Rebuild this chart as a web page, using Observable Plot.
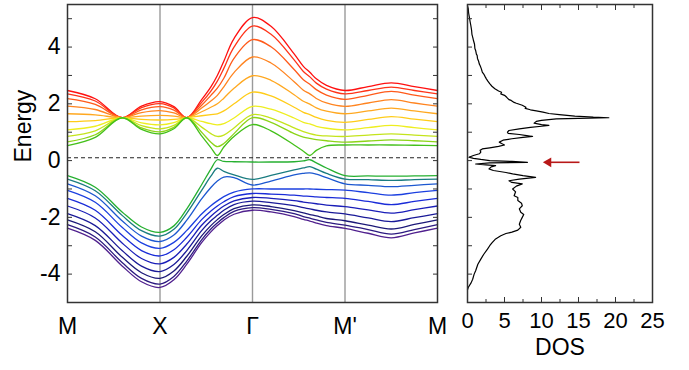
<!DOCTYPE html>
<html>
<head>
<meta charset="utf-8">
<script src="https://cdn.jsdelivr.net/npm/d3@7"></script>
<script src="https://cdn.jsdelivr.net/npm/@observablehq/plot@0.6"></script>
<style>
  html, body { margin: 0; padding: 0; background: #fff; }
  #wrap { position: relative; width: 689px; height: 370px; overflow: hidden; font-family: "Liberation Sans", Arial, sans-serif; }
  #bands, #dos { position: absolute; top: 0; }
  #bands { left: 0; }
  #dos { left: 455px; }
</style>
</head>
<body>
<div id="wrap"><div id="bands"></div><div id="dos"></div></div>
<script>
// ---- k-path ----
const kTicks = [0, 1, 2, 3, 4];
const kLabels = ["M", "X", "Γ", "M'", "M"];
const bandK = [0, 0.3, 0.59, 0.8, 1.0, 1.15, 1.29, 1.45, 1.55, 1.62, 1.69, 1.8, 2.0, 2.2, 2.45, 2.55, 2.62, 2.69, 2.8, 3.0, 3.25, 3.5, 3.75, 4.0];

// ---- conduction bands (top red -> bottom green) ----
const conductionBands = [
  [2.47, 2.18, 1.51, 1.92, 2.08, 1.90, 1.51, 2.15, 2.60, 3.00, 3.50, 4.30, 5.04, 4.73, 3.76, 3.32, 3.11, 2.88, 2.65, 2.47, 2.61, 2.74, 2.61, 2.47],
  [2.35, 2.10, 1.51, 1.87, 2.01, 1.86, 1.51, 2.05, 2.45, 2.80, 3.25, 4.00, 4.74, 4.45, 3.55, 3.14, 2.95, 2.73, 2.52, 2.35, 2.47, 2.59, 2.47, 2.35],
  [2.18, 1.98, 1.51, 1.79, 1.90, 1.78, 1.51, 1.95, 2.30, 2.55, 2.90, 3.60, 4.26, 4.01, 3.21, 2.85, 2.69, 2.50, 2.31, 2.16, 2.30, 2.44, 2.31, 2.18],
  [1.92, 1.80, 1.51, 1.69, 1.76, 1.68, 1.51, 1.85, 2.10, 2.30, 2.60, 3.10, 3.65, 3.44, 2.78, 2.48, 2.35, 2.19, 2.03, 1.91, 2.03, 2.15, 2.03, 1.92],
  [1.65, 1.61, 1.51, 1.57, 1.59, 1.57, 1.51, 1.72, 1.88, 2.00, 2.20, 2.55, 2.99, 2.83, 2.32, 2.09, 1.99, 1.86, 1.74, 1.65, 1.75, 1.85, 1.75, 1.65],
  [1.37, 1.41, 1.51, 1.45, 1.43, 1.45, 1.51, 1.58, 1.62, 1.65, 1.75, 2.00, 2.41, 2.28, 1.88, 1.70, 1.62, 1.52, 1.42, 1.35, 1.45, 1.55, 1.46, 1.37],
  [1.08, 1.21, 1.51, 1.33, 1.26, 1.34, 1.51, 1.38, 1.30, 1.26, 1.30, 1.50, 1.91, 1.81, 1.50, 1.35, 1.29, 1.21, 1.14, 1.08, 1.16, 1.24, 1.16, 1.08],
  [0.85, 1.05, 1.51, 1.23, 1.12, 1.24, 1.51, 1.18, 0.95, 0.85, 0.90, 1.15, 1.62, 1.50, 1.15, 1.02, 0.95, 0.90, 0.87, 0.85, 0.90, 0.94, 0.90, 0.85],
  [0.66, 0.91, 1.51, 1.15, 1.01, 1.17, 1.51, 1.00, 0.65, 0.49, 0.60, 0.95, 1.51, 1.35, 0.95, 0.83, 0.78, 0.74, 0.70, 0.65, 0.69, 0.73, 0.70, 0.66],
  [0.53, 0.82, 1.51, 1.10, 0.94, 1.12, 1.51, 0.87, 0.46, 0.18, 0.48, 0.85, 1.27, 1.05, 0.55, 0.33, 0.18, 0.36, 0.52, 0.55, 0.55, 0.55, 0.54, 0.53]
];
const conductionColors = ["#ff1010", "#ff3318", "#ff5a1a", "#ff8420", "#ffa820", "#ffcc18", "#eeee20", "#c4e41c", "#8cd418", "#44c01a"];

// ---- valence bands (top green -> bottom purple) ----
const valenceBands = [
  [-0.53, -0.94, -1.81, -2.34, -2.53, -2.30, -1.70, -0.85, -0.30, 0.03, -0.03, -0.04, -0.05, -0.05, -0.04, -0.01, 0.03, -0.08, -0.26, -0.53, -0.54, -0.55, -0.54, -0.53],
  [-0.65, -1.06, -1.93, -2.47, -2.66, -2.42, -1.85, -1.05, -0.55, -0.27, -0.38, -0.50, -0.66, -0.52, -0.33, -0.26, -0.21, -0.30, -0.45, -0.65, -0.67, -0.70, -0.67, -0.65],
  [-0.82, -1.24, -2.12, -2.66, -2.85, -2.62, -2.10, -1.35, -0.95, -0.72, -0.58, -0.60, -0.86, -0.72, -0.50, -0.45, -0.43, -0.48, -0.60, -0.82, -0.87, -0.92, -0.87, -0.82],
  [-1.05, -1.47, -2.35, -2.90, -3.09, -2.88, -2.46, -1.88, -1.59, -1.42, -1.27, -1.11, -1.00, -1.00, -1.00, -1.00, -1.00, -1.01, -1.02, -1.04, -1.13, -1.22, -1.13, -1.05],
  [-1.33, -1.75, -2.63, -3.17, -3.36, -3.14, -2.70, -2.08, -1.78, -1.60, -1.45, -1.27, -1.16, -1.18, -1.22, -1.25, -1.26, -1.28, -1.30, -1.33, -1.44, -1.55, -1.44, -1.33],
  [-1.60, -2.02, -2.90, -3.45, -3.64, -3.41, -2.94, -2.28, -1.96, -1.77, -1.60, -1.42, -1.30, -1.33, -1.41, -1.46, -1.49, -1.52, -1.57, -1.62, -1.74, -1.85, -1.73, -1.60],
  [-1.87, -2.29, -3.17, -3.72, -3.91, -3.66, -3.17, -2.47, -2.12, -1.93, -1.75, -1.55, -1.43, -1.48, -1.59, -1.66, -1.70, -1.75, -1.81, -1.88, -2.02, -2.15, -2.01, -1.87],
  [-2.09, -2.51, -3.40, -3.95, -4.15, -3.89, -3.37, -2.65, -2.29, -2.08, -1.90, -1.69, -1.56, -1.62, -1.76, -1.84, -1.90, -1.95, -2.04, -2.12, -2.27, -2.41, -2.25, -2.09],
  [-2.26, -2.69, -3.59, -4.15, -4.35, -4.08, -3.54, -2.79, -2.41, -2.20, -2.01, -1.79, -1.66, -1.72, -1.87, -1.97, -2.03, -2.09, -2.18, -2.27, -2.43, -2.59, -2.43, -2.26],
  [-2.38, -2.81, -3.71, -4.27, -4.47, -4.20, -3.65, -2.89, -2.51, -2.29, -2.10, -1.89, -1.75, -1.81, -1.97, -2.07, -2.13, -2.20, -2.29, -2.39, -2.56, -2.72, -2.55, -2.38]
];
const valenceColors = ["#26b030", "#1a7c80", "#1c58d0", "#1c40e0", "#1a2cd8", "#1a1eb8", "#1a1a98", "#1c1878", "#2c1a80", "#50208e"];

const fermiLevel = 0.1;
const energyTicks = [-5, -4, -3, -2, -1, 0, 1, 2, 3, 4, 5];
const energyLabels = [-4, -2, 0, 2, 4];

// ---- density of states (energy, DOS) ----
const dosEnergy = [5.45, 5.35, 5.2, 5.06, 4.9, 4.76, 4.6, 4.45, 4.3, 4.24, 4.1, 3.95, 3.88, 3.75, 3.71, 3.6, 3.5, 3.4, 3.35, 3.25, 3.12, 3.05, 2.95, 2.88, 2.8, 2.71, 2.62, 2.53, 2.45, 2.41, 2.35, 2.3, 2.23, 2.15, 2.12, 2.05, 2.02, 1.95, 1.88, 1.84, 1.79, 1.75, 1.71, 1.66, 1.62, 1.57, 1.53, 1.51, 1.49, 1.47, 1.42, 1.38, 1.32, 1.27, 1.24, 1.21, 1.17, 1.12, 1.06, 1.0, 0.96, 0.92, 0.88, 0.85, 0.82, 0.77, 0.72, 0.65, 0.6, 0.55, 0.5, 0.45, 0.41, 0.36, 0.3, 0.24, 0.18, 0.12, 0.08, 0.04, 0.0, -0.03, -0.06, -0.08, -0.12, -0.15, -0.18, -0.22, -0.29, -0.35, -0.42, -0.47, -0.53, -0.59, -0.65, -0.71, -0.77, -0.82, -0.9, -1.0, -1.1, -1.24, -1.3, -1.41, -1.5, -1.59, -1.7, -1.82, -1.9, -2.0, -2.1, -2.24, -2.35, -2.45, -2.52, -2.57, -2.65, -2.76, -2.9, -3.0, -3.12, -3.3, -3.47, -3.65, -3.88, -4.0, -4.18, -4.3, -4.47, -4.55];
const dosValue = [0, 0.1, 0.15, 0.25, 0.35, 0.45, 0.55, 0.6, 0.75, 0.8, 0.95, 1.0, 1.1, 1.2, 1.3, 1.35, 1.5, 1.6, 1.7, 1.85, 2.0, 2.2, 2.4, 2.55, 2.75, 3.0, 3.3, 3.7, 4.2, 4.6, 4.5, 5.0, 5.3, 5.6, 5.9, 6.3, 6.6, 7.4, 7.9, 7.8, 8.5, 9.3, 10.2, 11.0, 12.4, 14.5, 17.0, 19.1, 15.0, 12.0, 10.0, 9.3, 9.0, 10.0, 11.0, 10.0, 8.5, 7.0, 5.6, 5.4, 5.5, 7.0, 8.0, 8.8, 7.5, 6.0, 4.8, 4.3, 4.6, 5.0, 4.2, 3.0, 2.0, 1.7, 1.8, 1.6, 0.8, 0.2, 0.8, 1.8, 3.0, 6.0, 8.1, 3.0, 1.1, 2.5, 3.8, 3.2, 2.9, 3.5, 5.2, 6.1, 7.5, 9.2, 7.0, 5.6, 6.0, 7.4, 6.6, 6.1, 6.5, 6.3, 6.8, 6.8, 7.3, 7.4, 7.0, 7.2, 7.6, 7.4, 7.2, 7.0, 7.2, 6.8, 6.0, 5.2, 4.5, 3.8, 3.3, 3.0, 2.7, 2.2, 1.8, 1.4, 1.1, 0.9, 0.7, 0.5, 0.1, 0.0];
const dosTicks = [0, 5, 10, 15, 20, 25];
const dosMinorTicks = [2.5, 7.5, 12.5, 17.5, 22.5];

// arrow marking the flat band in the DOS
const arrowEnergy = -0.06;
const arrowFrom = 15.2;
const arrowTo = 10.4;

// ---------------- build ----------------
const FONT = '"Liberation Sans", Arial, sans-serif';
const lineRows = [];
valenceBands.forEach((vals, b) => vals.forEach((E, i) => lineRows.push({k: bandK[i], E, band: "v" + b, color: valenceColors[b]})));
conductionBands.forEach((vals, b) => vals.forEach((E, i) => lineRows.push({k: bandK[i], E, band: "c" + b, color: conductionColors[b]})));
const kLabelMap = new Map(kTicks.map((k, i) => [k, kLabels[i]]));

const bands = Plot.plot({
  width: 455, height: 370,
  marginLeft: 67, marginRight: 18, marginTop: 4, marginBottom: 68,
  style: {fontFamily: FONT, background: "white"},
  x: {domain: [0, 4]},
  y: {domain: [-5, 5.5]},
  marks: [
    Plot.ruleX([1, 2, 3], {stroke: "#9a9a9a", strokeWidth: 1.4}),
    Plot.ruleY([fermiLevel], {stroke: "#222", strokeWidth: 1, strokeDasharray: "4,3"}),
    Plot.line(lineRows, {x: "k", y: "E", z: "band", stroke: "color", strokeWidth: 1.3, curve: "catmull-rom"}),
    Plot.axisY({anchor: "left", ticks: energyTicks, tickSize: -5, tickPadding: 12, stroke: "#333",
      tickFormat: d => energyLabels.includes(d) ? String(d) : "", fontSize: 23, color: "#000", label: null}),
    Plot.axisY({anchor: "right", ticks: energyTicks, tickSize: -5, tickFormat: () => "", stroke: "#333", label: null}),
    Plot.axisX({anchor: "bottom", ticks: kTicks, tickSize: 0, tickPadding: 15, tickFormat: d => kLabelMap.get(d), fontSize: 23, label: null}),
    Plot.text(["Energy"], {frameAnchor: "left", rotate: -90, dx: -44, dy: 9, fontSize: 23, fill: "#000"}),
    Plot.frame({stroke: "#333", strokeWidth: 1.5})
  ]
});
document.getElementById("bands").appendChild(bands);

const dosRows = dosEnergy.map((E, i) => ({E, D: dosValue[i]}));
const dos = Plot.plot({
  width: 234, height: 370,
  marginLeft: 12, marginRight: 37, marginTop: 4, marginBottom: 68,
  style: {fontFamily: FONT, background: "white"},
  x: {domain: [0, 25]},
  y: {domain: [-5, 5.5]},
  marks: [
    Plot.line(dosRows, {x: "D", y: "E", stroke: "#000", strokeWidth: 1.2}),
    Plot.ruleY([arrowEnergy], {x1: arrowFrom, x2: arrowTo + 0.6, stroke: "#b81818", strokeWidth: 1.6}),
    Plot.dot([arrowTo], {x: d => d, y: arrowEnergy, symbol: "triangle", rotate: -90, r: 3.6, dx: 4, fill: "#b81818", stroke: "none"}),
    Plot.axisX({anchor: "bottom", ticks: dosTicks, tickSize: -5, tickPadding: 15, stroke: "#333", fontSize: 22, label: null, tickFormat: d => String(d)}),
    Plot.axisX({anchor: "bottom", ticks: dosMinorTicks, tickSize: -3, tickFormat: () => "", stroke: "#333", label: null}),
    Plot.axisX({anchor: "top", ticks: dosTicks, tickSize: -5, tickFormat: () => "", stroke: "#333", label: null}),
    Plot.axisX({anchor: "top", ticks: dosMinorTicks, tickSize: -3, tickFormat: () => "", stroke: "#333", label: null}),
    Plot.axisY({anchor: "left", ticks: energyTicks, tickSize: -5, tickFormat: () => "", stroke: "#333", label: null}),
    Plot.text(["DOS"], {frameAnchor: "bottom", dy: 52, fontSize: 23, fill: "#000"}),
    Plot.frame({stroke: "#333", strokeWidth: 1.5})
  ]
});
document.getElementById("dos").appendChild(dos);
</script>
</body>
</html>
